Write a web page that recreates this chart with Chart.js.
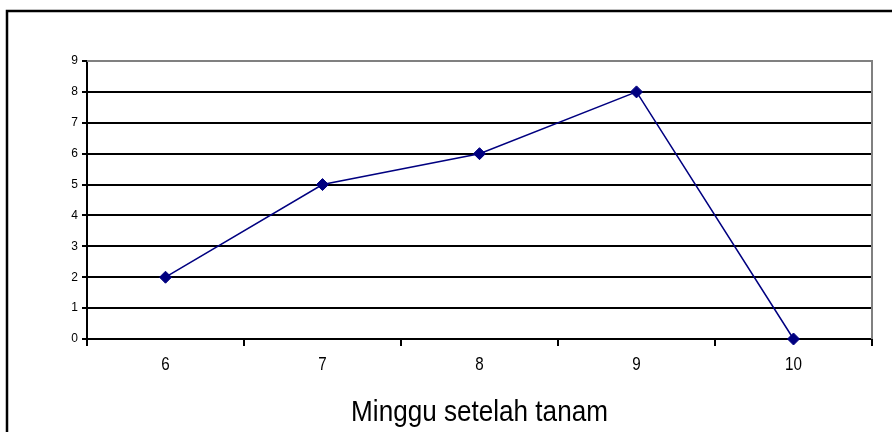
<!DOCTYPE html>
<html>
<head>
<meta charset="utf-8">
<script src="https://cdn.jsdelivr.net/npm/chart.js@4/dist/chart.umd.min.js"></script>
<style>
  html, body { margin: 0; padding: 0; background: #fff; }
  #wrap { width: 892px; height: 432px; position: relative; }
</style>
</head>
<body>
<div id="wrap"><canvas id="c" width="892" height="432"></canvas></div>
<script>
// Weeks after planting and the observed count per week
const weeks = ['6', '7', '8', '9', '10'];
const counts = [2, 5, 6, 8, 0];
const yTicks = [0, 1, 2, 3, 4, 5, 6, 7, 8, 9];
const xTitle = 'Minggu setelah tanam';

const sans = '"Liberation Sans", Arial, sans-serif';

// Draws text squeezed horizontally to mimic a narrow face
function narrowText(ctx, text, x, y, size, squeeze) {
  ctx.save();
  ctx.font = size + 'px ' + sans;
  ctx.fillStyle = '#000';
  ctx.textAlign = 'center';
  ctx.textBaseline = 'alphabetic';
  ctx.translate(x, y);
  ctx.scale(squeeze, 1);
  ctx.fillText(text, 0, 0);
  ctx.restore();
}

// Outer frame, grey top/right plot edges, and the narrow category labels + axis title
const framePlugin = {
  id: 'frame',
  beforeDraw(chart) {
    const ctx = chart.ctx;
    ctx.save();
    ctx.fillStyle = '#fff';
    ctx.fillRect(0, 0, chart.width, chart.height);
    ctx.strokeStyle = '#000';
    ctx.lineWidth = 2.5;
    ctx.beginPath();
    ctx.moveTo(7, chart.height + 5);
    ctx.lineTo(7, 11);
    ctx.lineTo(chart.width + 5, 11);
    ctx.stroke();
    ctx.restore();
  },
  beforeDatasetsDraw(chart) {
    const a = chart.chartArea;
    const ctx = chart.ctx;
    ctx.save();
    ctx.strokeStyle = '#808080';
    ctx.lineWidth = 2;
    ctx.beginPath();
    ctx.moveTo(a.left, a.top);
    ctx.lineTo(a.right, a.top);
    ctx.lineTo(a.right, a.bottom);
    ctx.stroke();
    ctx.restore();
  },
  afterDraw(chart) {
    const xs = chart.scales.x;
    const a = chart.chartArea;
    const ctx = chart.ctx;
    weeks.forEach((w, i) => {
      narrowText(ctx, w, xs.getPixelForValue(i), a.bottom + 31, 19, 0.8);
    });
    narrowText(ctx, xTitle, (a.left + a.right) / 2, a.bottom + 82, 30, 0.87);
  }
};

new Chart(document.getElementById('c'), {
  type: 'line',
  data: {
    labels: weeks,
    datasets: [{
      data: counts,
      borderColor: '#000080',
      backgroundColor: '#000080',
      borderWidth: 1.5,
      pointStyle: 'rectRot',
      pointRadius: 6,
      pointBorderWidth: 1,
      tension: 0,
      clip: false
    }]
  },
  options: {
    responsive: false,
    animation: false,
    devicePixelRatio: 1,
    layout: { padding: { top: 61, right: 20, left: 0, bottom: 0 } },
    plugins: { legend: { display: false }, tooltip: { enabled: false } },
    scales: {
      x: {
        type: 'category',
        offset: true,
        grid: {
          offset: true,
          drawOnChartArea: false,
          drawTicks: true,
          tickLength: 7,
          color: '#000',
          lineWidth: 2
        },
        border: { display: true, color: '#000', width: 2 },
        ticks: { display: false },
        title: { display: false },
        afterFit(scale) { scale.height = 93; }
      },
      y: {
        min: 0,
        max: 9,
        afterBuildTicks(scale) { scale.ticks = yTicks.map(v => ({ value: v })); },
        grid: {
          color: (c) => (c.tick && c.tick.value === 9 ? '#808080' : '#000'),
          lineWidth: 2,
          drawTicks: true,
          tickLength: 5,
          tickColor: '#000'
        },
        border: { display: true, color: '#000', width: 2 },
        ticks: {
          color: '#000',
          font: { family: sans, size: 12 },
          padding: 4
        },
        afterFit(scale) { scale.width = 87; }
      }
    }
  },
  plugins: [framePlugin]
});
</script>
</body>
</html>
